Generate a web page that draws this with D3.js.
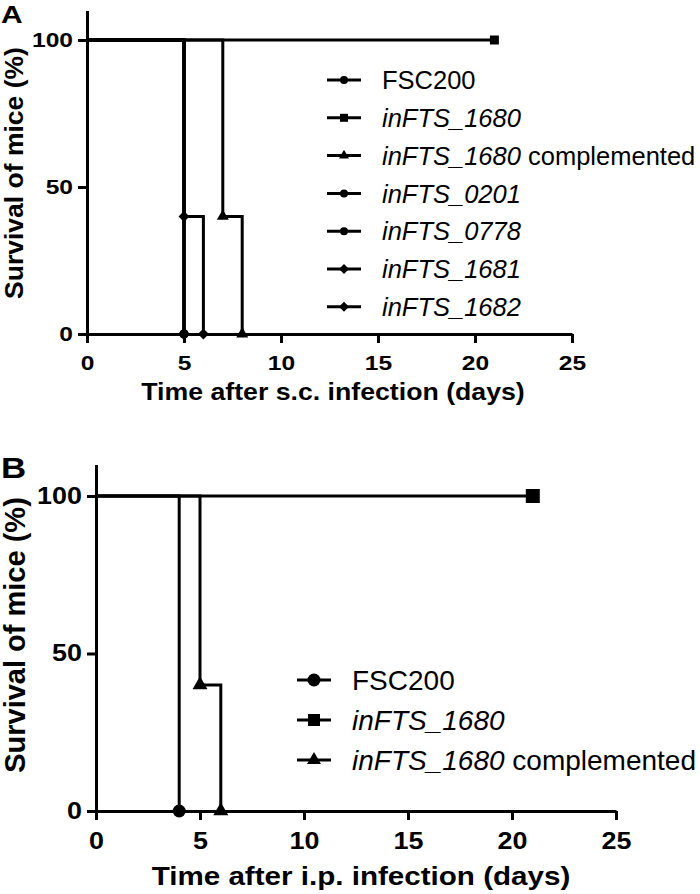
<!DOCTYPE html>
<html lang="en">
<head>
<meta charset="UTF-8">
<title>Survival of mice</title>
<script src="https://d3js.org/d3.v7.min.js"></script>
<style>
    body { margin: 0; background: #fff; }
    svg text { font-family: "Liberation Sans", Arial, sans-serif; fill: #000; }
</style>
</head>
<body>
<div id="chart"></div>
<script>

// panel A: s.c. infection
var namesA = ["FSC200", "inFTS_1680", "inFTS_1680 complemented", "inFTS_0201", "inFTS_0778", "inFTS_1681", "inFTS_1682"];
var timesA = [[0, 5], [0, 21], [0, 7, 8], [0, 5], [0, 5], [0, 5, 6], [0, 5]];
var survA  = [[100, 0], [100, 100], [100, 40, 0], [100, 0], [100, 0], [100, 40, 0], [100, 0]];
var shapesA = ["circle", "square", "triangle", "circle", "circle", "diamond", "diamond"];

// panel B: i.p. infection
var namesB = ["FSC200", "inFTS_1680", "inFTS_1680 complemented"];
var timesB = [[0, 4], [0, 21], [0, 5, 6]];
var survB  = [[100, 0], [100, 100], [100, 40, 0]];
var shapesB = ["circle", "square", "triangle"];

var xTicks = [0, 5, 10, 15, 20, 25];
var yTicks = [0, 50, 100];

var svg = d3.select('#chart').append('svg')
    .attr('width', 700)
    .attr('height', 894);

// the original figure is a bit wider than it is tall, so bold texts get stretched
function stretch(sel, k) {
    sel.each(function() {
        var len = this.getComputedTextLength();
        this.setAttribute('textLength', len * k);
        this.setAttribute('lengthAdjust', 'spacingAndGlyphs');
    });
}

function marker(shape, s) {
    // s = rough width in px
    if (shape === 'circle') return d3.symbol().type(d3.symbolCircle).size(Math.PI * s * s / 4)();
    if (shape === 'square') return d3.symbol().type(d3.symbolSquare).size(s * s)();
    if (shape === 'triangle') return d3.symbol().type(d3.symbolTriangle).size(s * s * Math.sqrt(3) / 4)();
    return d3.symbol().type(d3.symbolSquare).size(s * s / 2)();
}

function panel(opt) {
    var g = svg.append('g');
    var x = d3.scaleLinear().domain([0, 25]).range([opt.x0, opt.x1]);
    var y = d3.scaleLinear().domain([0, 110]).range([opt.y0, opt.y0 - (opt.y0 - opt.y100) * 1.1]);

    var yAxis = g.append('g')
        .attr('transform', 'translate(' + opt.x0 + ',0)')
        .call(d3.axisLeft(y).tickValues(yTicks).tickSize(9).tickSizeOuter(0).tickPadding(5));
    var xAxis = g.append('g')
        .attr('transform', 'translate(0,' + opt.y0 + ')')
        .call(d3.axisBottom(x).tickValues(xTicks).tickSize(9).tickSizeOuter(0).tickPadding(opt.xPad));

    [xAxis, yAxis].forEach(function(a) {
        a.selectAll('path, line').attr('stroke', '#000').attr('stroke-width', 3);
        a.selectAll('text')
            .style('font-size', opt.tickFont + 'px')
            .style('font-weight', 'bold')
            .call(stretch, 1.17);
    });

    var line = d3.line()
        .x(function(d) { return x(d[0]); })
        .y(function(d) { return y(d[1]); })
        .curve(d3.curveStepAfter);

    opt.names.forEach(function(name, i) {
        var pts = opt.times[i].map(function(t, j) { return [t, opt.surv[i][j]]; });
        g.append('path')
            .attr('d', line(pts))
            .attr('fill', 'none')
            .attr('stroke', '#000')
            .attr('stroke-width', 3);
    });

    opt.names.forEach(function(name, i) {
        var pts = opt.times[i].map(function(t, j) { return [t, opt.surv[i][j]]; }).slice(1);
        g.selectAll(null)
            .data(pts)
            .enter()
            .append('path')
            .attr('d', marker(opt.shapes[i], opt.mark[opt.shapes[i]]))
            .attr('transform', function(d) {
                return 'translate(' + x(d[0]) + ',' + y(d[1]) + ')' + (opt.shapes[i] === 'diamond' ? ' rotate(45)' : '');
            })
            .attr('fill', '#000');
    });

    // legend
    var leg = g.append('g');
    opt.names.forEach(function(name, i) {
        var ly = opt.legY + i * opt.legStep;
        leg.append('line')
            .attr('x1', opt.legX).attr('x2', opt.legX + 34)
            .attr('y1', ly).attr('y2', ly)
            .attr('stroke', '#000').attr('stroke-width', 3);
        leg.append('path')
            .attr('d', marker(opt.shapes[i], opt.legMark[opt.shapes[i]]))
            .attr('transform', 'translate(' + (opt.legX + 17) + ',' + ly + ')' + (opt.shapes[i] === 'diamond' ? ' rotate(45)' : ''));
        var t = leg.append('text')
            .attr('x', opt.legX + 55)
            .attr('y', ly)
            .attr('dy', '0.36em')
            .style('font-size', opt.legFont + 'px');
        if (name === 'FSC200') {
            t.text(name);
        } else {
            var parts = name.split(' ');
            t.append('tspan').style('font-style', 'italic').text(parts[0]);
            if (parts[1]) t.append('tspan').text(' ' + parts[1]);
        }
    });

    // titles
    g.append('text')
        .attr('x', opt.xTitleX)
        .attr('y', opt.xTitleY)
        .attr('text-anchor', 'middle')
        .style('font-size', opt.titleFont + 'px')
        .style('font-weight', 'bold')
        .text(opt.xTitle)
        .call(stretch, 1.16);
    g.append('text')
        .attr('transform', 'translate(' + opt.yTitleX + ',' + opt.yTitleY + ') rotate(-90)')
        .attr('text-anchor', 'middle')
        .style('font-size', opt.yTitleFont + 'px')
        .style('font-weight', 'bold')
        .text('Survival of mice (%)');
    g.append('text')
        .attr('x', 1)
        .attr('y', opt.labelY)
        .style('font-size', opt.labelFont + 'px')
        .style('font-weight', 'bold')
        .text(opt.label)
        .call(stretch, opt.labelStretch);
}

panel({
    names: namesA, times: timesA, surv: survA, shapes: shapesA,
    x0: 87, x1: 572, y0: 334, y100: 40,
    xPad: 12, tickFont: 21,
    mark: {circle: 9, square: 9, triangle: 12, diamond: 11},
    legMark: {circle: 8, square: 8, triangle: 10, diamond: 10},
    legX: 327, legY: 80, legStep: 37.8, legFont: 25.5,
    xTitle: 'Time after s.c. infection (days)', xTitleX: 333, xTitleY: 400,
    yTitleX: 23, yTitleY: 173, yTitleFont: 26.5, titleFont: 23,
    label: 'A', labelY: 23, labelFont: 23, labelStretch: 1.3
});

panel({
    names: namesB, times: timesB, surv: survB, shapes: shapesB,
    x0: 96, x1: 616, y0: 811, y100: 496,
    xPad: 13, tickFont: 23,
    mark: {circle: 13, square: 14, triangle: 15},
    legMark: {circle: 13, square: 12, triangle: 14},
    legX: 297, legY: 680, legStep: 40, legFont: 28,
    xTitle: 'Time after i.p. infection (days)', xTitleX: 361, xTitleY: 885,
    yTitleX: 25, yTitleY: 635, yTitleFont: 29, titleFont: 25.5,
    label: 'B', labelY: 478, labelFont: 29, labelStretch: 1.2
});

</script>
</body>
</html>
